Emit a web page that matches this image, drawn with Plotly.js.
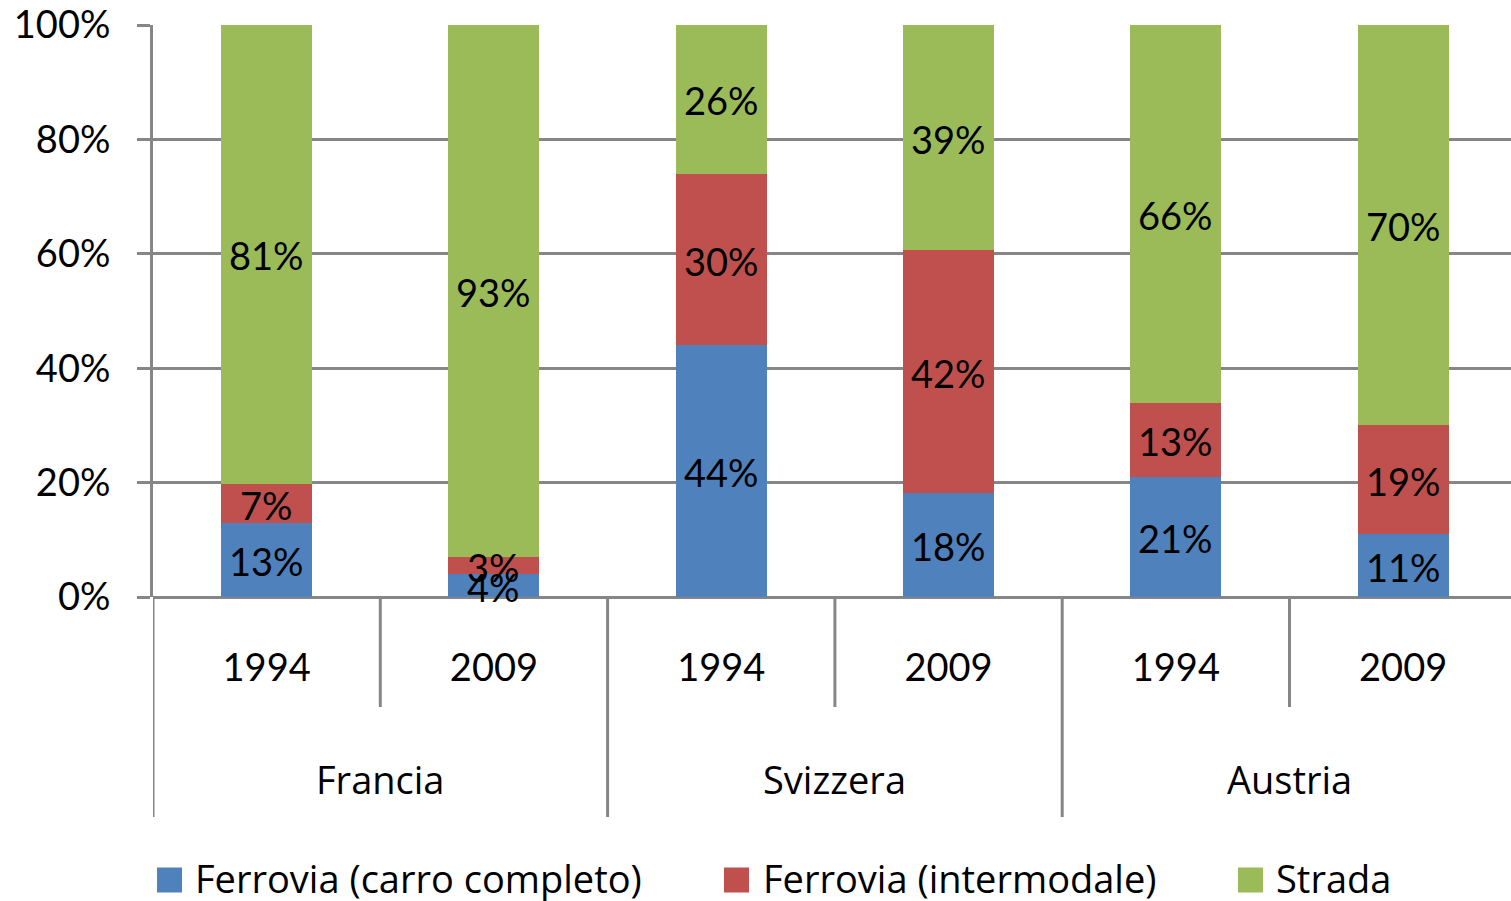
<!DOCTYPE html>
<html>
<head>
<meta charset="utf-8">
<script src="https://cdn.plot.ly/plotly-3.0.1.min.js"></script>
<style>html,body{margin:0;padding:0;background:#fff;}#chart{width:1511px;height:901px;}</style>
</head>
<body>
<div id="chart"></div>
<script>
// ---- data ----
const countries = ['Francia', 'Francia', 'Svizzera', 'Svizzera', 'Austria', 'Austria'];
const years = ['1994', '2009', '1994', '2009', '1994', '2009'];
const seriesNames = ['Ferrovia (carro completo)', 'Ferrovia (intermodale)', 'Strada'];
const carroCompleto = [13, 4, 44, 18, 21, 11];
const intermodale = [7, 3, 30, 42, 13, 19];
const strada = [81, 93, 26, 39, 66, 70];
const yTicks = [0, 20, 40, 60, 80, 100];

// ---- styles ----
const colors = ['#4F81BD', '#C0504D', '#9BBB59'];
const FONT = 'Lato, "Open Sans", sans-serif';
const WORDFONT = '"Open Sans", Lato, sans-serif';
const FS = 38;
const GRID = '#868686';
const plotTopPx = 25, plotBottomPx = 597, plotLeftPx = 153, W = 1511, H = 901;
const plotH = plotBottomPx - plotTopPx;
const plotW = W - plotLeftPx;
const pxY = px => (plotBottomPx - px) / plotH;   // pixel row -> paper y
const pxX = px => (px - plotLeftPx) / plotW;     // pixel col -> paper x

const idx = years.map((_, i) => i);
const allSeries = [carroCompleto, intermodale, strada];

const traces = allSeries.map((vals, s) => ({
  type: 'bar',
  x: idx,
  y: vals,
  name: seriesNames[s],
  marker: {color: colors[s], line: {width: 0}},
  hoverinfo: 'skip',
  showlegend: false
}));

const shapes = [];
const annotations = [];

// data labels drawn above all bars (centred in each normalised segment)
const totals = idx.map(i => allSeries.reduce((a, ser) => a + ser[i], 0));
idx.forEach(i => {
  let base = 0;
  allSeries.forEach(ser => {
    const h = ser[i] / totals[i] * 100;
    annotations.push({
      xref: 'x', yref: 'y', x: i, y: base + h / 2, text: ser[i] + '%',
      showarrow: false, xanchor: 'center', yanchor: 'middle', yshift: -1,
      font: {family: FONT, size: FS, color: '#000'}
    });
    base += h;
  });
});

// group boundaries and labels
const shortLen = pxY(plotBottomPx + 110);
const longLen = pxY(plotBottomPx + 220);
for (let i = 0; i <= idx.length; i++) {
  const isGroupEdge = (i === 0 || i === idx.length || countries[i] !== countries[i - 1]);
  shapes.push({
    type: 'line', xref: 'x', yref: 'paper',
    x0: i - 0.5, x1: i - 0.5, y0: 0, y1: isGroupEdge ? longLen : shortLen,
    line: {color: GRID, width: 3}
  });
}
const groups = [...new Set(countries)];
groups.forEach(g => {
  const members = idx.filter(i => countries[i] === g);
  const c = members.reduce((a, b) => a + b, 0) / members.length;
  annotations.push({
    xref: 'x', yref: 'paper', x: c, y: pxY(779), text: g, showarrow: false,
    xanchor: 'center', yanchor: 'middle', font: {family: WORDFONT, size: FS, color: '#000'}
  });
});

// custom legend (large squares like the original)
const legendSquareX = [157, 724, 1238];
const legendTextX = [193, 761, 1274];
const legendY = 878;
seriesNames.forEach((n, s) => {
  shapes.push({
    type: 'rect', xref: 'paper', yref: 'paper',
    x0: pxX(legendSquareX[s]), x1: pxX(legendSquareX[s] + 25),
    y0: pxY(880 - 12.5), y1: pxY(880 + 12.5),
    fillcolor: colors[s], line: {width: 0}
  });
  annotations.push({
    xref: 'paper', yref: 'paper', x: pxX(legendTextX[s]), y: pxY(legendY),
    xanchor: 'left', yanchor: 'middle', showarrow: false, text: n,
    font: {family: WORDFONT, size: FS, color: '#000'}
  });
});

const layout = {
  width: W, height: H,
  margin: {l: plotLeftPx, r: 0, t: plotTopPx, b: H - plotBottomPx, pad: 0},
  paper_bgcolor: '#fff', plot_bgcolor: '#fff',
  barmode: 'stack', barnorm: 'percent', bargap: 0.6,
  font: {family: FONT, size: FS, color: '#000'},
  xaxis: {
    type: 'linear', range: [-0.5, -0.5 + plotW / 227.3],
    tickvals: idx, ticktext: years, ticks: '', showgrid: false, zeroline: false,
    showline: false, ticklabelstandoff: 45,
    tickfont: {family: FONT, size: FS, color: '#000'}
  },
  yaxis: {
    range: [0, 100], tickvals: yTicks, ticktext: yTicks.map(v => v + '%'),
    showgrid: true, gridcolor: GRID, gridwidth: 3,
    zeroline: true, zerolinecolor: GRID, zerolinewidth: 3,
    showline: true, linecolor: GRID, linewidth: 3,
    ticks: 'outside', ticklen: 13, tickwidth: 3, tickcolor: GRID,
    ticklabelstandoff: 19,
    tickfont: {family: FONT, size: FS, color: '#000'}
  },
  shapes: shapes,
  annotations: annotations,
  showlegend: false
};

Plotly.newPlot('chart', traces, layout, {displayModeBar: false, staticPlot: true});
</script>
</body>
</html>
